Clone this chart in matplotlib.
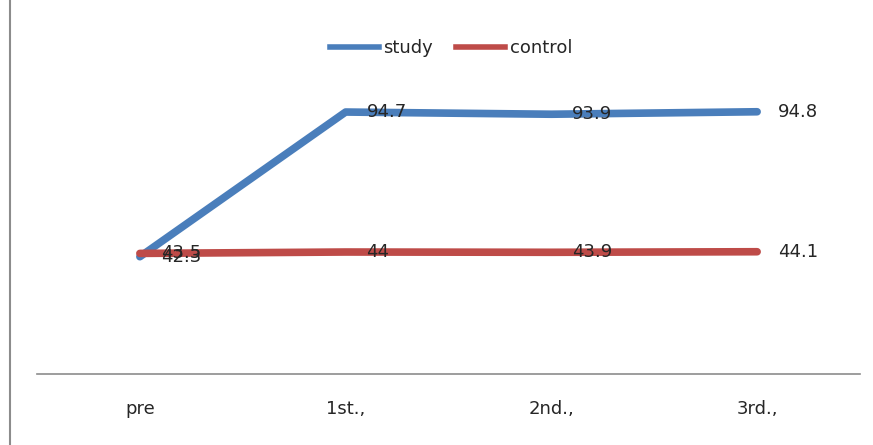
import matplotlib
matplotlib.use("Agg")
import matplotlib.pyplot as plt
from matplotlib.lines import Line2D

categories = ["pre", "1st.,", "2nd.,", "3rd.,"]
study = [42.3, 94.7, 93.9, 94.8]
control = [43.5, 44.0, 43.9, 44.1]
study_labels = ["42.3", "94.7", "93.9", "94.8"]
control_labels = ["43.5", "44", "43.9", "44.1"]

W, H = 873, 445
fig = plt.figure(figsize=(W / 100, H / 100), dpi=100)
plt.rcParams['font.family'] = ['DejaVu Sans']

left, right = 37 / W, 860 / W
bottom = (H - 373.5) / H
top_px = 373.5 - 100 * 2.761
ax = fig.add_axes([left, bottom, right - left, (373.5 - top_px) / H])
ax.set_xlim(-0.5, 3.5)
ax.set_ylim(0, 100)

blue = "#4A7EBB"
red = "#BE4B48"
x = list(range(len(categories)))
ax.plot(x, study, color=blue, lw=5.5, solid_capstyle="round", solid_joinstyle="round", label="study", zorder=3)
ax.plot(x, control, color=red, lw=5.5, solid_capstyle="round", solid_joinstyle="round", label="control", zorder=3)

tc = "#262626"
fs = 13
for xi, v, t in zip(x, study, study_labels):
    ax.annotate(t, (xi, v), xytext=(15, 0), textcoords="offset points",
                ha="left", va="center", fontsize=fs, color=tc, zorder=4)
for xi, v, t in zip(x, control, control_labels):
    ax.annotate(t, (xi, v), xytext=(15, 0), textcoords="offset points",
                ha="left", va="center", fontsize=fs, color=tc, zorder=4)

for s in ["top", "right", "left"]:
    ax.spines[s].set_visible(False)
ax.spines["bottom"].set_color("#8C8C8C")
ax.spines["bottom"].set_linewidth(1.2)
ax.set_yticks([])
ax.set_xticks(x)
ax.set_xticklabels(categories, fontsize=fs, color=tc)
ax.tick_params(axis="x", length=0, pad=19)

leg = fig.legend(handles=[Line2D([], [], color=blue, lw=4), Line2D([], [], color=red, lw=4)],
                 labels=["study", "control"], loc="center", bbox_to_anchor=(451 / W, 1 - 48 / H),
                 ncol=2, frameon=False, fontsize=fs, handlelength=2.7, handletextpad=0.25,
                 columnspacing=1.3)
for t in leg.get_texts():
    t.set_color(tc)

fig.add_artist(Line2D([10 / W, 10 / W], [0, 1], color="#8C8C8C", lw=1.5, transform=fig.transFigure))

fig.savefig("out.png", dpi=100)
